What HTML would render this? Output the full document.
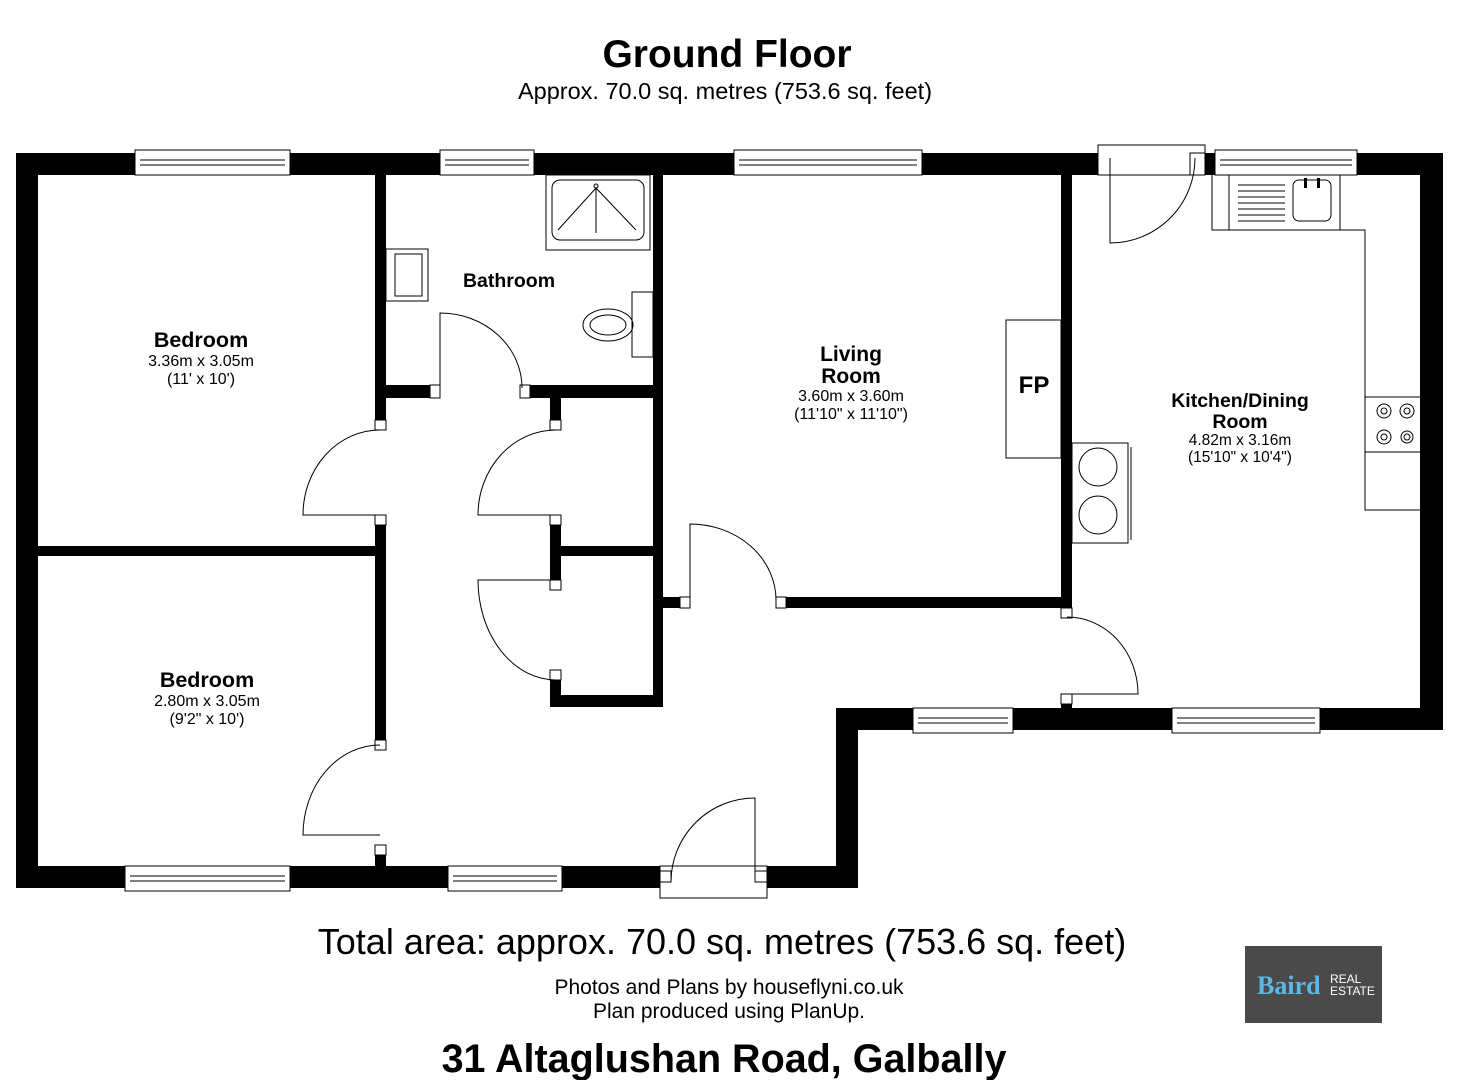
<!DOCTYPE html>
<html><head><style>
html,body{margin:0;padding:0;background:#fff;width:1457px;height:1080px;overflow:hidden}
svg{display:block}
text{font-family:"Liberation Sans",Arial,sans-serif}
</style></head><body>
<svg width="1457" height="1080" viewBox="0 0 1457 1080">
<!-- titles -->
<text x="727" y="67" font-size="39" font-weight="bold" text-anchor="middle">Ground Floor</text>
<text x="725" y="99" font-size="23.5" text-anchor="middle">Approx. 70.0 sq. metres (753.6 sq. feet)</text>

<g fill="#000">
<rect x="16" y="153" width="1427" height="22"/>
<rect x="16" y="153" width="22" height="735"/>
<rect x="16" y="866" width="842" height="22"/>
<rect x="836" y="708" width="22" height="180"/>
<rect x="836" y="708" width="607" height="22"/>
<rect x="1420" y="153" width="23" height="577"/>
<rect x="375" y="175" width="11" height="255"/>
<rect x="375" y="515" width="11" height="225"/>
<rect x="375" y="845" width="11" height="21"/>
<rect x="38" y="546" width="348" height="10"/>
<rect x="386" y="385" width="54" height="13"/>
<rect x="520" y="385" width="143" height="13"/>
<rect x="653" y="175" width="10" height="532"/>
<rect x="550" y="398" width="11" height="32"/>
<rect x="550" y="515" width="11" height="65"/>
<rect x="550" y="680" width="11" height="27"/>
<rect x="561" y="546" width="92" height="10"/>
<rect x="550" y="695" width="113" height="12"/>
<rect x="663" y="597" width="27" height="11"/>
<rect x="776" y="597" width="296" height="11"/>
<rect x="1061" y="175" width="11" height="433"/>
<rect x="1061" y="694" width="11" height="14"/>
</g>

<g fill="#fff" stroke="#000" stroke-width="1">
<rect x="135" y="150" width="155" height="25"/>
<rect x="440" y="150" width="94" height="25"/>
<rect x="734" y="150" width="188" height="25"/>
<rect x="1215" y="150" width="142" height="25"/>
<rect x="1098" y="145" width="107" height="30"/>
<rect x="913" y="708" width="100" height="25"/>
<rect x="1172" y="708" width="148" height="25"/>
<rect x="125" y="866" width="165" height="25"/>
<rect x="448" y="866" width="114" height="25"/>
<rect x="660" y="866" width="107" height="32"/>
<rect x="375" y="420" width="11" height="10"/>
<rect x="375" y="515" width="11" height="10"/>
<rect x="375" y="740" width="11" height="10"/>
<rect x="375" y="845" width="11" height="10"/>
<rect x="430" y="385" width="10" height="13"/>
<rect x="520" y="385" width="10" height="13"/>
<rect x="550" y="420" width="11" height="10"/>
<rect x="550" y="515" width="11" height="10"/>
<rect x="550" y="580" width="11" height="10"/>
<rect x="550" y="670" width="11" height="10"/>
<rect x="680" y="597" width="10" height="11"/>
<rect x="776" y="597" width="10" height="11"/>
<rect x="1061" y="608" width="11" height="10"/>
<rect x="1061" y="694" width="11" height="10"/>
<rect x="660" y="871" width="11" height="11"/>
<rect x="755" y="871" width="12" height="11"/>
<rect x="1190" y="153" width="15" height="22"/>
</g>
<g stroke="#000" stroke-width="1" fill="none">
<line x1="140" y1="160" x2="285" y2="160"/><line x1="140" y1="165" x2="285" y2="165"/>
<line x1="445" y1="160" x2="529" y2="160"/><line x1="445" y1="165" x2="529" y2="165"/>
<line x1="739" y1="160" x2="917" y2="160"/><line x1="739" y1="165" x2="917" y2="165"/>
<line x1="1220" y1="160" x2="1352" y2="160"/><line x1="1220" y1="165" x2="1352" y2="165"/>
<line x1="918" y1="718" x2="1008" y2="718"/><line x1="918" y1="723" x2="1008" y2="723"/>
<line x1="1177" y1="718" x2="1315" y2="718"/><line x1="1177" y1="723" x2="1315" y2="723"/>
<line x1="130" y1="876" x2="285" y2="876"/><line x1="130" y1="881" x2="285" y2="881"/>
<line x1="453" y1="876" x2="557" y2="876"/><line x1="453" y1="881" x2="557" y2="881"/>
<path d="M380,515 H303 A77,85 0 0 1 380,430"/>
<path d="M440,388 V313 A82,75 0 0 1 522,388"/>
<path d="M556,515 H478 A78,85 0 0 1 556,430"/>
<path d="M556,580 H478 A78,100 0 0 0 556,680"/>
<path d="M380,835 H303 A77,90 0 0 1 380,745"/>
<path d="M690,600 V524 A86,76 0 0 1 776,600"/>
<path d="M1067,694 H1138 A71,77 0 0 0 1067,617"/>
<path d="M755,882 V798 A84,84 0 0 0 671,882"/>
<path d="M1110,158 V243 A85,85 0 0 0 1195,158"/>
<path d="M1212,175 V230 H1365 V510 H1420"/>
<line x1="1229" y1="175" x2="1229" y2="230"/>
<line x1="1340" y1="175" x2="1340" y2="230"/>
<line x1="1365" y1="397" x2="1420" y2="397"/>
<line x1="1365" y1="452" x2="1420" y2="452"/>
<rect x="1293" y="180" width="38" height="41" rx="6"/>
<circle cx="1384" cy="411" r="7"/><circle cx="1384" cy="411" r="3"/>
<circle cx="1407" cy="411" r="7"/><circle cx="1407" cy="411" r="3"/>
<circle cx="1384" cy="437" r="7"/><circle cx="1384" cy="437" r="3"/>
<circle cx="1407" cy="437" r="6"/><circle cx="1407" cy="437" r="3"/>
<rect x="1072" y="443" width="56" height="100"/>
<line x1="1131" y1="447" x2="1131" y2="540"/>
<circle cx="1098" cy="467" r="19"/><circle cx="1098" cy="515" r="19"/>
<rect x="1006" y="320" width="55" height="138"/>
<rect x="546" y="175" width="104" height="75"/>
<rect x="552" y="180" width="92" height="60" rx="8"/>
<path d="M558,230 L596,188 L636,230 M596,188 V233"/>
<circle cx="596" cy="186" r="2"/>
<rect x="386" y="249" width="42" height="52"/>
<rect x="395" y="254" width="27" height="42"/>
<rect x="632" y="292" width="21" height="65"/>
<ellipse cx="608" cy="325" rx="25" ry="16"/>
<ellipse cx="608" cy="325" rx="18" ry="10"/>
</g>
<g stroke="#000" stroke-width="1">
<line x1="1238" y1="185" x2="1285" y2="185"/><line x1="1238" y1="191" x2="1285" y2="191"/>
<line x1="1238" y1="197" x2="1285" y2="197"/><line x1="1238" y1="203" x2="1285" y2="203"/>
<line x1="1238" y1="209" x2="1285" y2="209"/><line x1="1238" y1="215" x2="1285" y2="215"/>
<line x1="1238" y1="221" x2="1285" y2="221"/>
</g>
<rect x="1304" y="178" width="3" height="10" fill="#000"/><rect x="1317" y="178" width="3" height="10" fill="#000"/>

<text x="201" y="347" font-size="21.5" font-weight="bold" text-anchor="middle">Bedroom</text>
<text x="201" y="366" font-size="16" text-anchor="middle">3.36m x 3.05m</text>
<text x="201" y="384" font-size="16" text-anchor="middle">(11' x 10')</text>
<text x="207" y="687" font-size="21.5" font-weight="bold" text-anchor="middle">Bedroom</text>
<text x="207" y="706" font-size="16" text-anchor="middle">2.80m x 3.05m</text>
<text x="207" y="724" font-size="16" text-anchor="middle">(9'2" x 10')</text>
<text x="509" y="287" font-size="19.5" font-weight="bold" text-anchor="middle">Bathroom</text>
<text x="851" y="361" font-size="21" font-weight="bold" text-anchor="middle">Living</text>
<text x="851" y="383" font-size="21" font-weight="bold" text-anchor="middle">Room</text>
<text x="851" y="401" font-size="16" text-anchor="middle">3.60m x 3.60m</text>
<text x="851" y="419" font-size="16" text-anchor="middle">(11'10" x 11'10")</text>
<text x="1034" y="393" font-size="24" font-weight="bold" text-anchor="middle">FP</text>
<text x="1240" y="407" font-size="19.5" font-weight="bold" text-anchor="middle">Kitchen/Dining</text>
<text x="1240" y="428" font-size="19.5" font-weight="bold" text-anchor="middle">Room</text>
<text x="1240" y="445" font-size="15.5" text-anchor="middle">4.82m x 3.16m</text>
<text x="1240" y="462" font-size="15.5" text-anchor="middle">(15'10" x 10'4")</text>

<text x="722" y="954" font-size="36" text-anchor="middle">Total area: approx. 70.0 sq. metres (753.6 sq. feet)</text>
<text x="729" y="994" font-size="21" text-anchor="middle">Photos and Plans by houseflyni.co.uk</text>
<text x="729" y="1018" font-size="21" text-anchor="middle">Plan produced using PlanUp.</text>
<text x="724" y="1072" font-size="39.5" font-weight="bold" text-anchor="middle">31 Altaglushan Road, Galbally</text>

<rect x="1245" y="946" width="137" height="77" fill="#4a4a4a"/>
<text x="1257" y="994" font-size="26" font-weight="bold" style="font-family:'Liberation Serif',serif;fill:#5ab8e6">Baird</text>
<text x="1330" y="983" font-size="12" style="fill:#fff">REAL</text>
<text x="1330" y="995" font-size="12" style="fill:#fff">ESTATE</text>
</svg>
</body></html>
